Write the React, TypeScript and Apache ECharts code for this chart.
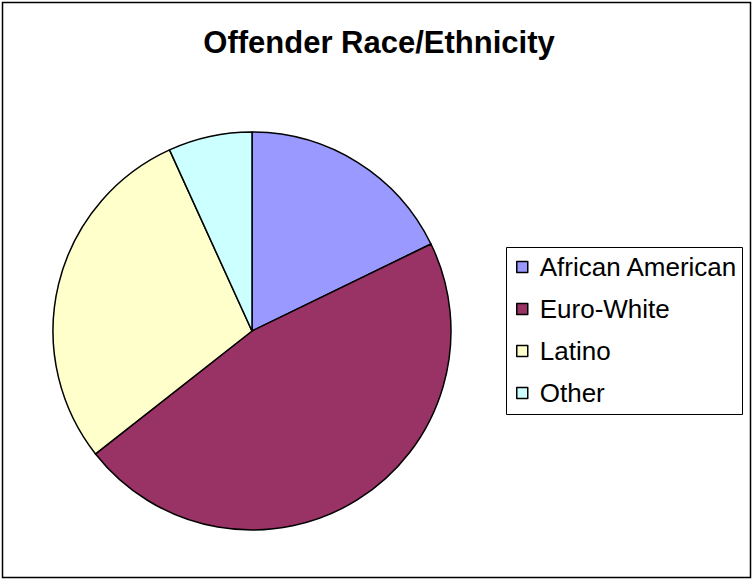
import React, { useEffect, useRef } from "react";
import * as echarts from "echarts";

const TITLE = "Offender Race/Ethnicity";
const CATEGORIES = ["African American", "Euro-White", "Latino", "Other"];
const VALUES = [17.8, 46.6, 28.8, 6.8];
const COLORS = ["#9999FF", "#993366", "#FFFFCC", "#CCFFFF"];

const FONT = "Liberation Sans, Arial, sans-serif";

export default function App() {
  const ref = useRef<HTMLDivElement>(null);
  useEffect(() => {
    if (!ref.current) return;
    const chart = echarts.init(ref.current, null, { renderer: "svg" });
    chart.setOption({
      animation: false,
      backgroundColor: "#ffffff",
      title: {
        text: TITLE,
        left: 374,
        textAlign: "center",
        top: 22,
        textStyle: { fontFamily: FONT, fontSize: 31, fontWeight: "bold", color: "#000" },
      },
      legend: {
        orient: "vertical",
        left: 516,
        top: 254,
        padding: 0,
        itemWidth: 11,
        itemHeight: 11,
        itemGap: 16,
        icon: "rect",
        selectedMode: false,
        data: CATEGORIES,
        itemStyle: { borderColor: "#000", borderWidth: 1.5 },
        textStyle: { fontFamily: FONT, fontSize: 26, color: "#000", padding: [0, 0, 0, 7] },
      },
      graphic: [
        {
          type: "rect",
          shape: { x: 2.5, y: 2.5, width: 748, height: 575 },
          style: { fill: "none", stroke: "#000", lineWidth: 1.5 },
          silent: true,
        },
        {
          type: "rect",
          shape: { x: 506.5, y: 247.5, width: 236, height: 167 },
          style: { fill: "none", stroke: "#000", lineWidth: 1 },
          silent: true,
        },
      ],
      series: [
        {
          type: "pie",
          center: [252, 331],
          radius: 199,
          startAngle: 90,
          clockwise: true,
          label: { show: false },
          labelLine: { show: false },
          emphasis: { disabled: true },
          itemStyle: { borderColor: "#000", borderWidth: 1.5 },
          data: CATEGORIES.map((name, i) => ({
            name,
            value: VALUES[i],
            itemStyle: { color: COLORS[i] },
          })),
        },
      ],
    });
    return () => chart.dispose();
  }, []);
  return (
    <div
      ref={ref}
      style={{ position: "fixed", left: 0, top: 0, width: 754, height: 580 }}
    />
  );
}
